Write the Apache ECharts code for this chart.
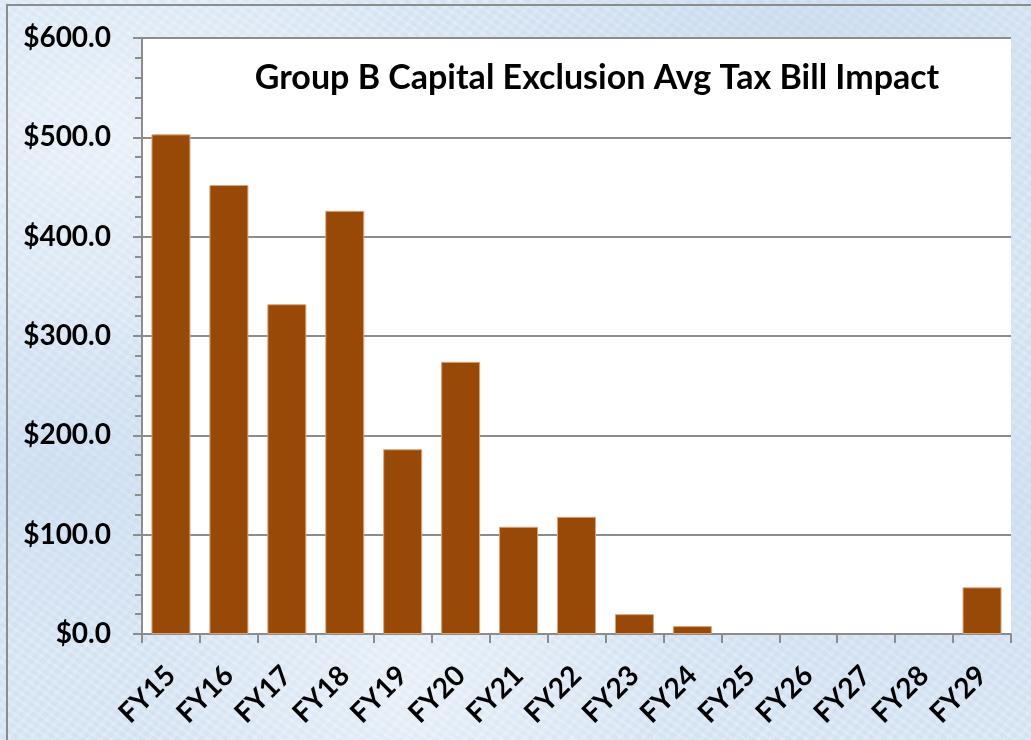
<!DOCTYPE html>
<html>
<head>
<meta charset="utf-8">
<title>Group B Capital Exclusion Avg Tax Bill Impact</title>
<script src="https://cdn.jsdelivr.net/npm/echarts@6/dist/echarts.min.js"></script>
<style>
  html, body { margin: 0; padding: 0; }
  body {
    width: 1031px; height: 740px; overflow: hidden; position: relative;
    background-color: #dbe8f5;
    background-image:
      radial-gradient(ellipse at 12% 18%, rgba(255,255,255,0.45), rgba(255,255,255,0) 28%),
      radial-gradient(ellipse at 78% 8%, rgba(190,210,235,0.45), rgba(190,210,235,0) 30%),
      radial-gradient(ellipse at 40% 92%, rgba(255,255,255,0.4), rgba(255,255,255,0) 30%),
      radial-gradient(ellipse at 90% 70%, rgba(195,214,238,0.45), rgba(195,214,238,0) 30%),
      radial-gradient(ellipse at 5% 65%, rgba(200,218,240,0.5), rgba(200,218,240,0) 25%),
      repeating-linear-gradient(35deg, rgba(255,255,255,0.10) 0 3px, rgba(180,200,228,0.10) 3px 7px),
      repeating-linear-gradient(-50deg, rgba(255,255,255,0.08) 0 4px, rgba(170,195,225,0.08) 4px 9px);
  }
  #frame {
    position: absolute; left: 6px; top: 4px; width: 1040px; height: 760px;
    border-left: 2px solid #8c8c8c; border-top: 2px solid #8c8c8c;
    box-sizing: border-box;
  }
  #chart { position: absolute; left: 0; top: 0; width: 1031px; height: 740px; }
</style>
</head>
<body>
<div id="frame"></div>
<div id="chart"></div>
<script>
// Fiscal years on the category axis
const fiscalYears = ['FY15', 'FY16', 'FY17', 'FY18', 'FY19', 'FY20', 'FY21', 'FY22',
                     'FY23', 'FY24', 'FY25', 'FY26', 'FY27', 'FY28', 'FY29'];
// Average tax bill impact per year, in dollars
const avgImpact = [503, 452, 332, 426, 186, 274, 108, 118, 20, 8, 0, 0, 0, 0, 47];
// Value axis range and step
const yMin = 0;
const yMax = 600;
const yStep = 100;
const chartTitle = 'Group B Capital Exclusion Avg Tax Bill Impact';

const FONT = 'Lato, "Open Sans", "Liberation Sans", sans-serif';
const GRAY = '#8c8c8c';

const chart = echarts.init(document.getElementById('chart'), null, { renderer: 'canvas' });

chart.setOption({
  backgroundColor: 'transparent',
  animation: false,
  grid: {
    left: 142, right: 20, top: 38, bottom: 106,
    show: true, backgroundColor: '#ffffff', borderWidth: 0
  },
  graphic: [{
    type: 'text',
    x: 597, y: 78,
    style: {
      text: chartTitle,
      font: 'bold 34px ' + FONT,
      fill: '#000000',
      align: 'center',
      verticalAlign: 'middle'
    },
    z: 100
  }],
  xAxis: {
    type: 'category',
    data: fiscalYears,
    boundaryGap: true,
    axisLine: { show: true, lineStyle: { color: GRAY, width: 2 } },
    axisTick: { show: true, length: 9, alignWithLabel: false, interval: 0,
                lineStyle: { color: GRAY, width: 2 } },
    axisLabel: {
      interval: 0, rotate: 45, margin: 37,
      color: '#000', fontFamily: FONT, fontWeight: 'bold', fontSize: 28
    },
    splitLine: { show: false }
  },
  yAxis: {
    type: 'value',
    min: yMin, max: yMax, interval: yStep,
    axisLine: { show: true, lineStyle: { color: GRAY, width: 2 } },
    axisTick: { show: true, length: 9, lineStyle: { color: GRAY, width: 2 } },
    minorTick: { show: true, splitNumber: 5, length: 7, lineStyle: { color: GRAY, width: 2 } },
    axisLabel: {
      margin: 31,
      color: '#000', fontFamily: FONT, fontWeight: 'bold', fontSize: 28,
      formatter: v => '$' + v.toFixed(1)
    },
    splitLine: { show: true, lineStyle: { color: GRAY, width: 2 } }
  },
  series: [{
    type: 'bar',
    data: avgImpact.map(v => v === 0
      ? { value: v, itemStyle: { borderWidth: 0 } }
      : v),
    barWidth: 39,
    itemStyle: { color: '#984807', borderColor: '#dba57a', borderWidth: 1 },
    z: 3
  }]
});
</script>
</body>
</html>
